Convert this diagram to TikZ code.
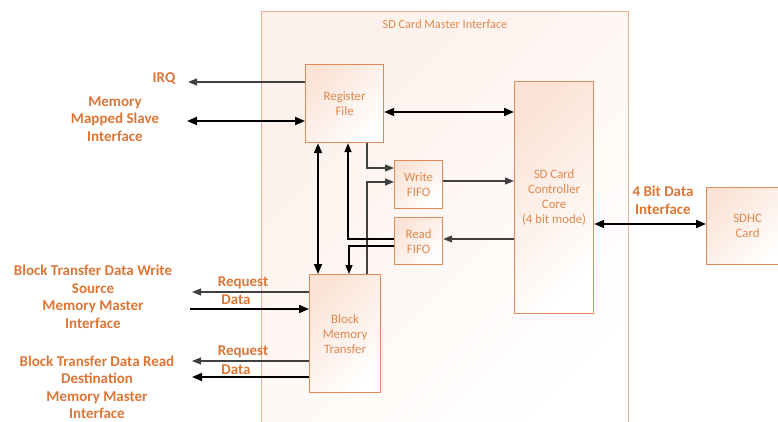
\documentclass[tikz,border=0pt]{standalone}
\usepackage{fontspec}
\setmainfont{Carlito}
\usetikzlibrary{arrows.meta}
\definecolor{lblor}{HTML}{DC7636}
\definecolor{txtor}{HTML}{E0884E}
\definecolor{boxor}{HTML}{E08A5A}
\definecolor{outor}{HTML}{EBB08F}
\definecolor{pinkA}{HTML}{FBE3D6}
\definecolor{pinkB}{HTML}{FDF1EB}
\definecolor{thinc}{HTML}{404040}
\begin{document}
\begin{tikzpicture}[x=1pt,y=-1pt,
  unit/.style={draw=boxor, line width=1.2pt, top color=pinkA, bottom color=white, shading angle=45,
    text=txtor, font=\fontsize{12.8}{15}\selectfont, align=center, inner sep=0pt, anchor=north west},
  outerbox/.style={draw=outor, line width=1.4pt, top color=pinkB, bottom color=white, shading angle=45,
    inner sep=0pt, anchor=north west},
  lbl/.style={text=lblor, font=\bfseries\fontsize{15}{17.5}\selectfont, align=center, inner sep=0pt},
  thinarr/.style={draw=thinc, line width=1.1pt, -{Triangle[length=9pt,width=7pt]}},
  thickarr/.style={draw=black, line width=1.8pt, -{Triangle[length=10pt,width=8pt]}},
  thickdbl/.style={draw=black, line width=1.8pt, {Triangle[length=10pt,width=8pt]}-{Triangle[length=10pt,width=8pt]}},
  midarr/.style={draw=black, line width=1.4pt, -{Triangle[length=9pt,width=7pt]}}
]
\useasboundingbox (0,0) rectangle (778,422);
\clip (0,0) rectangle (778,422);

% outer box
\node[outerbox, minimum width=367pt, minimum height=440pt] (master) at (261,11) {};
\node[text=txtor, font=\fontsize{12.3}{14}\selectfont, inner sep=0pt] (title) at (445,24) {SD Card Master Interface};

% units
\node[unit, minimum width=78pt, minimum height=78pt] (reg) at (305,64) {Register\\File};
\node[unit, minimum width=48pt, minimum height=48pt] (wfifo) at (394,160) {Write\\FIFO};
\node[unit, minimum width=48pt, minimum height=47pt] (rfifo) at (394,217) {Read\\FIFO};
\node[unit, minimum width=79pt, minimum height=232pt] (core) at (514,81) {SD Card\\Controller\\Core\\(4 bit mode)};
\node[unit, minimum width=71pt, minimum height=118pt] (bmt) at (309,274) {Block\\Memory\\Transfer};
\node[unit, minimum width=82pt, minimum height=77pt, text width=82pt] (sdhc) at (706,187) {SDHC\\Card};

% labels
\node[lbl] (lirq) at (164,79) {IRQ};
\node[lbl] (lmms) at (115,119) {Memory\\Mapped Slave\\Interface};
\node[lbl] (lwsrc) at (93,297) {Block Transfer Data Write\\Source\\Memory Master\\Interface};
\node[lbl] (lrdst) at (97,387.5) {Block Transfer Data Read\\Destination\\Memory Master\\Interface};
\node[lbl] (lreq1) at (243,283) {Request};
\node[lbl] (ldata1) at (236,300) {Data};
\node[lbl] (lreq2) at (243,352) {Request};
\node[lbl] (ldata2) at (236,370) {Data};
\node[lbl] (l4bit) at (663,200.5) {4 Bit Data\\Interface};

% free ends and routing points
\coordinate (irqend) at (188,82);
\coordinate (mmsend) at (187,121);
\coordinate (rc) at (0,112);
\coordinate (wx) at (367,168);
\coordinate (wx2) at (367,182);
\coordinate (wc) at (0,181);
\coordinate (cr) at (0,239);
\coordinate (rx) at (348,239);
\coordinate (rx2) at (349,246);
\coordinate (rb) at (318,0);
\coordinate (rq1) at (192,292);
\coordinate (d1) at (190,309);
\coordinate (rq2) at (192,361);
\coordinate (d2) at (192,377);
\coordinate (cs) at (0,224);

% connectors
\draw[thinarr] (reg.west |- irqend) -- (irqend);
\draw[thickdbl] (mmsend) -- (reg.west |- mmsend);
\draw[thickdbl] (reg.east |- rc) -- (core.west |- rc);
\draw[thinarr] (reg.south -| wx) |- (wfifo.west |- wx);
\draw[thinarr] (bmt.north -| wx2) |- (wfifo.west |- wx2);
\draw[thinarr] (wfifo.east |- wc) -- (core.west |- wc);
\draw[thinarr] (core.west |- cr) -- (rfifo.east |- cr);
\draw[midarr] (rfifo.west |- rx) -| (reg.south -| rx);
\draw[midarr] (rfifo.west |- rx2) -| (bmt.north -| rx2);
\draw[thickdbl] (reg.south -| rb) -- (bmt.north -| rb);
\draw[thinarr] (bmt.west |- rq1) -- (rq1);
\draw[thickarr] (d1) -- (bmt.west |- d1);
\draw[thinarr] (bmt.west |- rq2) -- (rq2);
\draw[thickarr] (bmt.west |- d2) -- (d2);
\draw[thickdbl] (core.east |- cs) -- (sdhc.west |- cs);
\end{tikzpicture}
\end{document}
